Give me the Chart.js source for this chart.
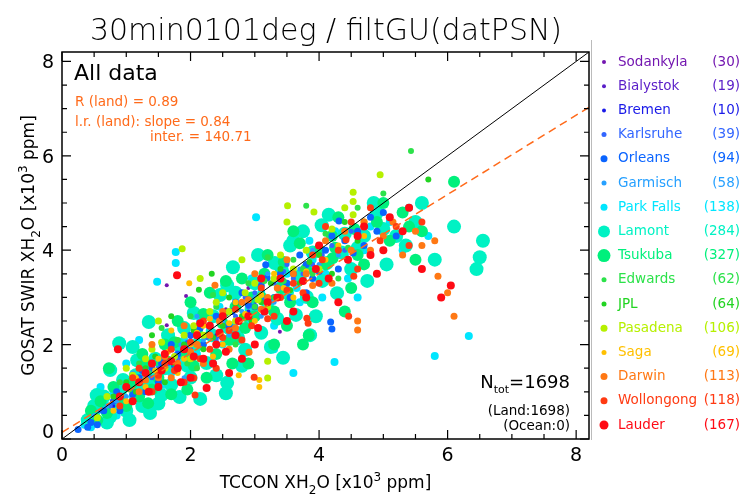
<!DOCTYPE html>
<html>
<head>
<meta charset="UTF-8">
<title>30min0101deg / filtGU(datPSN)</title>
<style>
  body { margin: 0; padding: 0; background: #fff; }
  #wrap { width: 743px; height: 498px; }
</style>
</head>
<body>
<div id="wrap"><canvas id="chart" width="743" height="498"></canvas></div>
<script src="https://cdn.jsdelivr.net/npm/chart.js"></script>
<script>
// stations, counts (legend)
const stations = ['Sodankyla', 'Bialystok', 'Bremen', 'Karlsruhe', 'Orleans', 'Garmisch', 'Park Falls', 'Lamont',
                  'Tsukuba', 'Edwards', 'JPL', 'Pasadena', 'Saga', 'Darwin', 'Wollongong', 'Lauder'];
const counts = [30, 19, 10, 39, 94, 58, 138, 284, 327, 62, 64, 106, 69, 113, 118, 167];

// [TCCON, GOSAT] in x10^3 ppm
const sodankyla = [[1.63,3.26],[1.93,3.03],[1.63,2.41],[2.55,2.75],[3.39,2.27],[3.4,1.71],[4.2,4.07],[2.72,3.11],
  [2.19,2.03],[0.56,0.91],[1.0,0.9],[1.3,1.2],[2.9,3.2],[3.6,3.4],[4.5,4.4]];
const bialystok = [[0.9,0.8],[1.2,1.3],[1.5,1.6],[1.8,1.5],[2.0,2.1],[2.2,2.6],[2.5,2.3],[2.8,2.4],[3.0,2.9],
  [3.5,3.2],[1.0,1.1],[1.7,2.0]];
const bremen = [[0.8,0.7],[1.1,1.2],[1.6,1.9],[2.4,2.2],[3.2,3.4],[4.3,4.0],[1.4,1.1],[0.5,0.4],[2.9,2.7],[3.7,3.3]];
const karlsruhe = [[0.6,0.6],[0.9,0.9],[1.2,1.2],[1.5,1.5],[1.8,1.7],[2.1,2.3],[2.4,2.1],[2.7,2.6],[3.0,3.1],
  [3.3,3.3],[3.6,3.4],[3.9,3.7],[4.2,4.1],[1.4,1.3],[2.0,1.9],[2.9,2.8],[3.5,3.7],[4.5,4.4],[1.1,1.0],[2.5,2.7],
  [0.75,0.7],[1.35,1.35],[1.65,1.6],[1.95,2.05],[2.25,2.15],[2.55,2.4],[2.85,3.0],[3.15,2.95],[3.45,3.55],
  [3.75,3.5],[4.05,3.9],[4.4,4.0]];
const orleans = [[0.25,0.2],[0.4,0.25],[0.55,0.3],[4.31,4.62],[3.17,3.69],[3.19,3.41],[4.18,2.48],[4.2,2.33],
  [4.53,3.94],[0.8,0.8],[1.0,1.1],[1.2,1.3],[1.4,1.5],[1.6,1.7],[1.8,1.8],[2.0,2.2],[2.2,2.0],[2.4,2.6],
  [2.6,2.4],[2.8,3.1],[3.0,2.8],[3.3,3.0],[3.5,3.3],[3.7,3.9],[3.9,3.4],[4.1,4.0],[4.3,3.6],[4.7,4.1],
  [4.9,4.4],[1.5,1.2],[2.3,2.4],[2.7,2.9],[3.6,3.5],[4.8,4.7],[5.2,4.3],[0.9,0.6],[1.3,1.0],[1.7,2.0],
  [3.8,3.1],[4.4,4.2],[0.45,0.35],[0.65,0.6],[0.85,1.0],[1.1,0.95],[1.25,1.45],[1.55,1.6],[1.75,1.55],
  [1.95,2.0],[2.15,2.35],[2.45,2.2],[2.65,2.7],[2.9,2.85],[3.1,3.25],[3.4,3.5],[3.55,3.0],[3.8,3.7],
  [4.0,3.55],[4.2,4.3],[4.6,4.4],[5.0,4.8]];
const garmisch = [[0.7,0.7],[1.0,0.9],[1.3,1.1],[1.5,1.4],[1.7,1.7],[2.0,1.8],[2.2,2.1],[2.5,2.5],[2.8,2.7],
  [3.1,2.6],[3.4,3.2],[3.7,3.6],[4.0,3.7],[1.1,1.4],[1.9,1.3],[2.6,2.2],[3.2,3.5],[0.5,0.5],[0.85,0.8],
  [1.2,1.25],[1.6,1.55],[1.85,2.0],[2.3,2.25],[2.7,2.45],[3.0,3.0],[3.3,2.9],[3.6,3.3],[3.9,4.0],[4.3,3.9],
  [2.1,2.6]];
const parkFalls = [[3.02,4.7],[1.77,3.96],[1.77,3.73],[1.48,3.33],[4.24,1.63],[3.6,1.4],[5.8,1.76],[6.33,2.18],
  [0.5,0.4],[0.7,0.7],[0.9,1.1],[1.1,0.9],[1.3,1.3],[1.5,1.6],[1.7,1.4],[1.9,2.1],[2.1,1.8],[2.3,2.3],
  [2.5,2.0],[2.7,3.0],[2.9,2.5],[3.1,3.1],[3.3,2.4],[3.5,3.5],[3.7,2.9],[3.9,3.8],[4.1,3.5],[4.4,3.9],
  [4.8,4.5],[5.3,4.0],[5.7,4.3],[0.6,1.1],[1.0,1.6],[2.0,2.9],[1.2,2.1],[4.6,3.0],[0.35,0.3],[3.3,1.9],
  [0.45,0.25],[0.55,0.6],[0.8,0.95],[0.85,0.5],[1.05,1.25],[1.25,0.65],[1.4,1.45],[1.6,1.15],[1.85,1.65],
  [2.15,2.5],[2.35,1.6],[2.45,2.8],[2.75,2.3],[2.95,3.4],[3.15,2.7],[3.4,3.3],[3.65,3.2],[3.85,4.2],
  [4.05,3.0],[4.25,4.4],[4.45,3.4],[4.7,4.0],[5.1,4.6],[5.4,4.9]];
const lamont = [[0.89,2.03],[1.1,1.95],[1.35,2.48],[0.75,1.46],[0.54,0.93],[0.48,0.55],[0.75,0.47],[1.37,0.55],
  [1.55,0.93],[1.83,0.89],[2.66,3.64],[2.57,3.26],[2.46,3.05],[2.05,2.67],[2.33,2.2],[2.25,1.61],[2.57,1.19],
  [2.55,0.97],[3.31,3.73],[3.42,3.58],[3.64,2.63],[3.81,3.01],[4.04,4.53],[4.12,3.73],[4.28,3.09],[3.86,2.2],
  [3.44,1.72],[2.74,2.14],[2.85,1.89],[1.17,1.67],[1.37,1.25],[0.6,0.7],[0.9,1.0],[1.0,0.6],[1.2,1.1],
  [1.6,1.5],[1.8,2.0],[2.0,1.3],[3.0,3.3],[3.2,2.9],[4.5,3.6],[4.7,4.3],[4.9,4.8],[5.2,4.3],[5.5,4.6],
  [5.8,3.8],[6.1,4.5],[6.55,4.2],[6.5,3.85],[6.45,3.6],[0.4,0.4],[3.6,4.2],[0.5,0.7],[0.65,0.9],[0.7,0.35],
  [0.85,0.75],[0.95,1.25],[1.05,0.4],[1.15,1.35],[1.25,0.7],[1.45,1.7],[1.5,0.75],[1.65,2.2],[1.7,1.15],
  [1.9,2.35],[1.95,1.55],[2.1,2.0],[2.15,0.85],[2.35,2.6],[2.4,1.35],[2.6,2.35],[2.7,3.1],[2.8,1.55],
  [2.95,2.75],[3.05,3.9],[3.1,2.25],[3.25,1.95],[3.35,2.55],[3.5,3.1],[3.55,4.1],[3.7,3.45],[3.75,4.4],
  [3.9,3.95],[3.95,2.6],[4.05,3.35],[4.15,4.75],[4.35,3.95],[4.4,4.35],[4.6,4.05],[4.75,3.35],[5.0,4.45],
  [5.35,4.1],[4.85,5.0],[5.6,5.0],[5.05,3.7]];
const tsukuba = [[1.0,0.7],[1.3,1.6],[1.6,2.0],[1.9,1.8],[2.1,2.3],[2.3,3.1],[2.6,2.1],[2.8,3.4],[3.0,2.6],
  [3.2,3.9],[3.4,3.2],[3.6,4.4],[3.8,3.6],[4.0,4.0],[4.3,4.7],[4.5,3.2],[4.9,4.6],[5.3,4.8],[5.6,4.4],
  [0.6,0.8],[0.8,1.1],[1.2,0.9],[1.5,1.3],[2.0,2.9],[2.4,1.8],[2.7,2.8],[3.1,3.0],[3.5,2.4],[4.2,4.3],
  [4.6,3.9],[5.0,5.0],[5.5,3.8],[0.45,0.6],[1.8,2.5],[2.9,1.6],[3.3,2.0],[3.84,2.2],[3.75,2.0],[4.21,3.83],
  [1.34,0.76],[0.73,1.5],[6.1,5.45],[0.55,0.4],[0.7,0.55],[0.9,0.85],[1.1,1.2],[1.25,1.8],[1.4,1.05],
  [1.55,1.6],[1.7,0.95],[1.75,2.05],[2.05,1.55],[2.2,2.65],[2.25,1.3],[2.5,2.45],[2.55,3.35],[2.65,1.6],
  [2.85,2.35],[2.95,3.0],[3.15,3.5],[3.3,2.7],[3.45,3.75],[3.55,2.9],[3.7,4.15],[3.9,2.9],[4.1,3.7],
  [4.25,4.05],[4.4,2.7],[4.55,4.45],[4.7,3.7],[5.1,4.2],[5.4,4.5],[1.95,1.05],[2.7,2.15]];
const edwards = [[3.8,4.94],[1.2,1.6],[1.5,1.1],[1.8,2.1],[2.1,1.5],[2.4,2.8],[2.7,2.0],[3.0,2.8],[3.3,3.0],
  [3.6,3.8],[3.9,3.5],[4.3,3.4],[4.6,4.9],[5.43,6.1],[5.0,5.2],[0.9,1.2],[2.0,2.6],[2.9,3.3],[1.05,1.05],
  [1.35,1.4],[1.65,1.7],[1.95,1.6],[2.25,2.2],[2.55,2.65],[2.85,2.55],[3.15,3.35],[3.45,3.35],[3.75,3.6],
  [4.1,4.35],[4.45,4.05],[1.55,2.35],[2.35,3.05],[3.2,3.85]];
const jpl = [[2.13,3.16],[2.33,3.5],[1.0,1.2],[1.3,1.5],[1.6,1.2],[1.9,2.0],[2.2,1.9],[2.5,2.4],[2.8,2.6],
  [3.1,2.9],[3.4,3.6],[3.7,3.3],[4.0,3.9],[4.4,4.6],[1.4,2.2],[2.6,3.0],[0.8,0.9],[5.7,5.5],[1.15,1.0],
  [1.45,1.75],[1.75,1.6],[2.05,2.3],[2.35,2.15],[2.7,2.85],[2.95,2.5],[3.25,3.3],[3.55,3.15],[3.85,3.75],
  [4.2,3.5],[4.6,4.2],[1.7,2.6]];
const pasadena = [[4.53,5.23],[4.53,5.03],[4.53,4.75],[3.51,4.94],[3.92,4.81],[3.5,4.6],[1.87,4.03],[1.0,1.5],
  [1.2,1.2],[1.4,1.9],[1.6,1.5],[1.9,2.2],[2.1,2.0],[2.3,2.7],[2.5,3.1],[2.7,2.5],[3.0,3.3],[3.2,2.8],
  [3.4,3.9],[0.7,0.9],[2.0,1.7],[2.8,3.8],[4.0,3.6],[3.2,1.65],[3.2,1.29],[4.95,5.6],[0.55,0.45],[1.1,1.35],
  [1.3,1.7],[1.55,2.05],[1.75,1.75],[2.05,2.4],[2.2,2.2],[2.4,2.9],[2.6,2.7],[2.85,3.1],[3.05,2.95],
  [3.3,3.4],[3.6,3.6],[3.8,4.0],[4.2,4.45],[4.4,4.9],[4.7,4.6],[2.15,3.4],[1.5,2.5]];
const saga = [[1.98,3.3],[3.07,1.25],[3.07,1.1],[1.0,0.8],[1.3,1.1],[1.5,1.7],[1.8,1.4],[2.0,2.0],[2.2,2.4],
  [2.5,2.0],[2.7,2.9],[3.0,2.5],[3.3,3.5],[3.6,3.0],[0.8,0.6],[1.7,2.3],[2.35,1.75],[4.1,3.8],[4.7,4.3],
  [1.15,1.3],[1.45,1.45],[1.65,1.85],[1.9,1.7],[2.1,2.25],[2.3,2.55],[2.6,2.45],[2.85,2.65],[3.1,3.05],
  [3.45,3.2],[3.8,3.55],[4.3,4.1],[2.75,1.35]];
const darwin = [[4.6,2.31],[2.38,3.26],[2.91,1.84],[4.6,2.5],[5.85,3.45],[5.6,4.1],[5.0,4.3],[4.8,4.0],[3.2,3.0],
  [3.5,3.8],[2.8,2.9],[2.5,2.7],[2.1,2.0],[1.8,1.6],[1.5,1.3],[1.2,1.0],[1.4,2.0],[1.9,2.4],[2.2,1.6],
  [3.8,3.5],[4.2,3.3],[4.4,4.4],[5.3,3.9],[6.0,3.1],[6.1,2.6],[3.0,3.5],[2.6,1.9],[1.7,1.3],[1.3,1.25],
  [1.6,1.75],[2.0,1.85],[2.3,2.2],[2.45,2.5],[2.7,2.35],[2.9,2.95],[3.1,2.75],[3.35,3.2],[3.6,3.5],
  [3.9,3.25],[4.1,4.2],[4.5,4.0],[4.7,4.6],[5.15,4.6],[5.5,4.4],[5.8,4.2]];
const wollongong = [[2.99,1.31],[2.07,0.93],[2.05,1.29],[4.46,2.6],[4.54,3.45],[4.42,4.22],[3.81,2.56],[3.83,2.45],
  [1.1,1.3],[1.4,1.0],[1.6,1.6],[1.9,1.2],[2.2,2.5],[2.4,1.5],[2.6,2.3],[2.8,2.1],[3.1,3.2],[3.3,2.6],
  [3.6,3.3],[3.9,3.9],[4.1,4.5],[4.8,4.9],[5.2,4.5],[5.6,4.6],[0.9,0.7],[1.7,1.9],[2.3,1.9],[3.4,3.0],
  [4.0,3.3],[4.6,3.6],[1.2,1.5],[1.5,1.35],[1.75,1.45],[2.0,2.05],[2.15,1.7],[2.5,2.15],[2.7,2.75],
  [2.95,2.4],[3.2,2.55],[3.5,3.15],[3.75,3.1],[4.05,3.8],[4.3,4.0],[4.5,4.6],[4.95,4.2],[5.4,4.1]];
const lauder = [[2.25,1.08],[0.87,1.9],[1.79,3.47],[1.2,1.2],[1.4,1.6],[1.5,1.1],[1.6,1.8],[1.8,1.5],[1.9,1.9],
  [2.0,1.3],[2.1,2.2],[2.2,1.7],[2.3,2.4],[2.4,2.0],[2.6,1.4],[2.7,2.2],[2.9,2.6],[3.0,2.0],[3.2,2.9],
  [3.4,3.4],[3.6,2.7],[3.8,3.0],[4.0,4.1],[4.3,2.9],[4.6,4.3],[4.9,3.5],[5.1,4.7],[5.4,4.9],[5.9,3.0],
  [0.9,0.9],[1.1,0.8],[1.3,1.4],[2.5,2.6],[2.8,1.7],[3.1,3.4],[4.8,3.9],[5.6,3.6],[1.0,1.1],[1.35,1.0],
  [1.55,1.45],[1.7,1.65],[1.85,1.2],[2.05,1.75],[2.15,2.45],[2.35,1.6],[2.45,2.25],[2.55,1.85],[2.75,2.5],
  [3.05,2.35],[3.15,2.7],[3.35,3.0],[3.5,2.5],[3.75,3.35],[3.95,3.6],[4.15,3.4],[4.45,3.8],[4.7,4.5],
  [5.0,4.0],[5.3,4.4],[6.05,3.25]];
const stationData = [sodankyla, bialystok, bremen, karlsruhe, orleans, garmisch, parkFalls, lamont,
                     tsukuba, edwards, jpl, pasadena, saga, darwin, wollongong, lauder];

// axes
const axisMin = 0, axisMax = 8.2;
const majorTicks = [0, 2, 4, 6, 8];
const minorTicks = [0.5, 1, 1.5, 2.5, 3, 3.5, 4.5, 5, 5.5, 6.5, 7, 7.5];

// statistics shown in the panel
const rLand = '0.89';
const slope = 0.84;
const intercept = 140.71;   // ppm
const nTot = 1698, nLand = 1698, nOcean = 0;

// styles
const colors = ['#7316b0', '#5a1ec8', '#1a1ae8', '#3366ff', '#0a64ff', '#26a0ff', '#00e6ff', '#00f2c4',
                '#00f07c', '#2ce24a', '#22d422', '#b6f000', '#ffc000', '#ff7814', '#ff3a12', '#ff0a14'];
const radii = [2, 2, 2, 2.5, 3.5, 2.5, 4, 7, 6, 3, 3, 3.5, 3, 3.5, 3.5, 4];
const legendRadii = [2, 2, 2, 2.5, 3.5, 2.5, 3.5, 6, 6.5, 2.5, 2.5, 3.5, 2.5, 3.5, 3.5, 4.5];
const FONT = '"DejaVu Sans", sans-serif';
const ORANGE = '#ff6a1a';

function font(size, weight) {
    return (weight || 400) + ' ' + size + 'px ' + FONT;
}

// draw a list of text pieces [text, size, dy] one after another
function richText(ctx, parts, x, y, align, weight) {
    let w = 0;
    parts.forEach(p => { ctx.font = font(p[1], weight); w += ctx.measureText(p[0]).width; });
    let sx = align === 'center' ? x - w / 2 : align === 'right' ? x - w : x;
    ctx.textAlign = 'left';
    parts.forEach(p => {
        ctx.font = font(p[1], weight);
        ctx.fillText(p[0], sx, y + (p[2] || 0));
        sx += ctx.measureText(p[0]).width;
    });
}

const decorations = {
    id: 'decorations',
    afterDraw(chart) {
        const ctx = chart.ctx;
        const a = chart.chartArea;
        const xs = chart.scales.x, ys = chart.scales.y;
        ctx.save();

        // frame
        ctx.strokeStyle = '#000';
        ctx.lineWidth = 1.5;
        ctx.strokeRect(a.left, a.top, a.right - a.left, a.bottom - a.top);

        // inward ticks on all four sides
        ctx.lineWidth = 1.2;
        ctx.beginPath();
        const tick = (v, len) => {
            const px = xs.getPixelForValue(v), py = ys.getPixelForValue(v);
            ctx.moveTo(px, a.bottom); ctx.lineTo(px, a.bottom - len);
            ctx.moveTo(px, a.top); ctx.lineTo(px, a.top + len);
            ctx.moveTo(a.left, py); ctx.lineTo(a.left + len, py);
            ctx.moveTo(a.right, py); ctx.lineTo(a.right - len, py);
        };
        majorTicks.forEach(v => tick(v, 9));
        minorTicks.forEach(v => tick(v, 5));
        ctx.stroke();

        // tick labels
        ctx.fillStyle = '#000';
        ctx.font = font(19);
        ctx.textAlign = 'center';
        ctx.textBaseline = 'top';
        majorTicks.forEach(v => ctx.fillText(String(v), xs.getPixelForValue(v), a.bottom + 8));
        ctx.textAlign = 'right';
        ctx.textBaseline = 'middle';
        majorTicks.forEach(v => ctx.fillText(String(v), a.left - 8, Math.min(ys.getPixelForValue(v) + 2, a.bottom - 6)));

        // axis titles
        ctx.textBaseline = 'alphabetic';
        richText(ctx, [['TCCON XH', 17], ['2', 12, 6], ['O [x10', 17], ['3', 12, -7], [' ppm]', 17]],
                 (a.left + a.right) / 2, 488, 'center');
        ctx.save();
        ctx.translate(34, (a.top + a.bottom) / 2);
        ctx.rotate(-Math.PI / 2);
        richText(ctx, [['GOSAT SWIR XH', 17], ['2', 12, 6], ['O [x10', 17], ['3', 12, -7], [' ppm]', 17]],
                 0, 0, 'center');
        ctx.restore();

        // title
        ctx.font = font(30, 200);
        ctx.textAlign = 'center';
        ctx.fillText('30min0101deg / filtGU(datPSN)', 326, 40);

        // statistics
        ctx.textAlign = 'left';
        ctx.font = font(22);
        ctx.fillText('All data', 74, 80);
        ctx.fillStyle = ORANGE;
        ctx.font = font(13.5);
        ctx.fillText('R (land) = ' + rLand, 75, 106);
        ctx.fillText('l.r. (land): slope = ' + slope.toFixed(2), 75, 126);
        ctx.fillText('inter. = ' + intercept.toFixed(2), 150, 141);

        ctx.fillStyle = '#000';
        richText(ctx, [['N', 18], ['tot', 11, 5], ['=' + nTot, 18]], a.right - 19, 388, 'right');
        ctx.font = font(13.5);
        ctx.textAlign = 'right';
        ctx.fillText('(Land:' + nLand + ')', a.right - 19, 415);
        ctx.fillText('(Ocean:' + nOcean + ')', a.right - 19, 430);

        // legend
        ctx.strokeStyle = '#bbb';
        ctx.lineWidth = 1;
        ctx.beginPath();
        ctx.moveTo(591.5, 40); ctx.lineTo(591.5, 440);
        ctx.stroke();
        ctx.textBaseline = 'middle';
        stations.forEach((s, i) => {
            const y = 62 + i * 24.2;
            ctx.fillStyle = colors[i];
            ctx.beginPath();
            ctx.arc(604, y, legendRadii[i], 0, Math.PI * 2);
            ctx.fill();
            ctx.font = font(13.5);
            ctx.textAlign = 'left';
            ctx.fillText(s, 618, y);
            ctx.textAlign = 'right';
            ctx.fillText('(' + counts[i] + ')', 740, y);
        });
        ctx.restore();
    }
};

const datasets = stations.map((s, i) => ({
    type: 'scatter',
    label: s,
    data: stationData[i].map(p => ({ x: p[0], y: p[1] })),
    backgroundColor: colors[i],
    borderWidth: 0,
    pointRadius: radii[i],
    pointHoverRadius: radii[i],
    order: radii[i] >= 6 ? 20 - i : (radii[i] >= 4 && i < 8 ? 15 : 15 - i)
}));

datasets.push({
    type: 'line',
    label: '1:1',
    data: [{ x: axisMin, y: axisMin }, { x: axisMax, y: axisMax }],
    borderColor: '#000',
    borderWidth: 1,
    pointRadius: 0,
    order: -2
});
datasets.push({
    type: 'line',
    label: 'l.r.',
    data: [{ x: axisMin, y: intercept / 1000 + slope * axisMin }, { x: axisMax, y: intercept / 1000 + slope * axisMax }],
    borderColor: ORANGE,
    borderWidth: 1.5,
    borderDash: [8, 5],
    pointRadius: 0,
    order: -1
});

new Chart(document.getElementById('chart'), {
    data: { datasets: datasets },
    options: {
        responsive: false,
        animation: false,
        devicePixelRatio: 1,
        layout: { padding: { left: 62, right: 154, top: 52, bottom: 59 } },
        scales: {
            x: { type: 'linear', min: axisMin, max: axisMax, display: false },
            y: { type: 'linear', min: axisMin, max: axisMax, display: false }
        },
        plugins: { legend: { display: false }, tooltip: { enabled: false } }
    },
    plugins: [decorations]
});
</script>
</body>
</html>
